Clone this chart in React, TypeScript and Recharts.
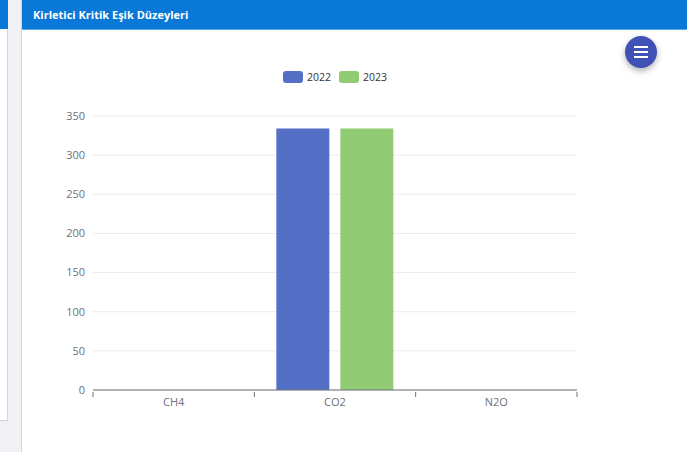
import { BarChart, Bar, XAxis, YAxis, CartesianGrid, Legend } from 'recharts';

const categories = ['CH4', 'CO2', 'N2O'];
const values2022 = [0, 334, 0];
const values2023 = [0, 334, 0];
const yTicks = [0, 50, 100, 150, 200, 250, 300, 350];

const SERIES = [
  { key: '2022', values: values2022, color: '#5470c6' },
  { key: '2023', values: values2023, color: '#91cc75' },
];

const data = categories.map((name, i) => {
  const row: Record<string, string | number> = { name };
  SERIES.forEach((s) => {
    row[s.key] = s.values[i];
  });
  return row;
});

const FONT = '"Open Sans", "Noto Sans", sans-serif';
const PLOT_WIDTH = 484;

// echarts-style category tick: label in the middle, tick marks on band edges
const CategoryTick = (props: any) => {
  const { x, y, payload, index } = props;
  const half = PLOT_WIDTH / categories.length / 2;
  return (
    <g>
      <line x1={x - half} x2={x - half} y1={y - 6} y2={y - 1} stroke="#6e7079" />
      {index === categories.length - 1 && (
        <line x1={x + half} x2={x + half} y1={y - 6} y2={y - 1} stroke="#6e7079" />
      )}
      <text x={x} y={y + 8} textAnchor="middle" fill="#6e7079" fontSize={11} fontFamily={FONT}>
        {payload.value}
      </text>
    </g>
  );
};

const LegendContent = () => (
  <div style={{ display: 'flex', justifyContent: 'center', gap: 8, fontFamily: FONT, fontSize: 10.5, color: '#333' }}>
    {SERIES.map((s) => (
      <div key={s.key} style={{ display: 'flex', alignItems: 'center' }}>
        <span style={{ width: 20, height: 12, borderRadius: 3, background: s.color, display: 'inline-block', marginRight: 4 }} />
        <span>{s.key}</span>
      </div>
    ))}
  </div>
);

const App: React.FC = () => {
  return (
    <div style={{ position: 'fixed', left: 0, top: 0, width: 687, height: 452, background: '#f0f0f5', overflow: 'hidden', fontFamily: FONT }}>
      {/* left panel */}
      <div style={{ position: 'absolute', left: 0, top: 0, width: 7, height: 420, background: '#fff', borderRight: '1px solid #d4d4dc', borderBottom: '1px solid #d4d4dc' }} />
      <div style={{ position: 'absolute', left: 0, top: 0, width: 8, height: 29, background: '#0a78d6' }} />

      {/* card */}
      <div style={{ position: 'absolute', left: 21, top: 0, right: 0, bottom: 0, background: '#fff', borderLeft: '1px solid #d4d4dc' }}>
        <div style={{ height: 29, background: '#0a78d6', borderBottom: '1px solid #5aa8ea', color: '#fff', fontWeight: 700, fontSize: 11, lineHeight: '29px', paddingLeft: 11 }}>
          Kirletici Kritik Eşik Düzeyleri
        </div>
      </div>

      <div style={{ position: 'absolute', left: 0, top: 0 }}>
        <BarChart
          width={687}
          height={452}
          data={data}
          margin={{ top: 116, right: 110, left: 0, bottom: 18 }}
          barCategoryGap={22}
          barGap={11}
        >
          <CartesianGrid vertical={false} stroke="#e9ecf4" />
          <XAxis
            dataKey="name"
            height={30}
            axisLine={{ stroke: '#6e7079' }}
            tickLine={false}
            tick={<CategoryTick />}
            interval={0}
          />
          <YAxis
            width={93}
            domain={[0, 350]}
            ticks={yTicks}
            axisLine={false}
            tickLine={false}
            tick={{ fill: '#6e7079', fontSize: 11, fontFamily: FONT }}
          />
          <Legend content={<LegendContent />} wrapperStyle={{ position: 'absolute', top: 70, left: 93, width: PLOT_WIDTH }} />
          {SERIES.map((s) => (
            <Bar key={s.key} dataKey={s.key} fill={s.color} isAnimationActive={false} />
          ))}
        </BarChart>
      </div>

      {/* floating menu button */}
      <div style={{ position: 'absolute', left: 625, top: 36, width: 32, height: 32, borderRadius: '50%', background: '#3f51b5', boxShadow: '0 3px 6px rgba(0,0,0,0.3)', display: 'flex', flexDirection: 'column', alignItems: 'center', justifyContent: 'center', gap: 3 }}>
        {[0, 1, 2].map((i) => (
          <span key={i} style={{ width: 14, height: 2, background: '#fff', display: 'block' }} />
        ))}
      </div>
    </div>
  );
};

export default App;
